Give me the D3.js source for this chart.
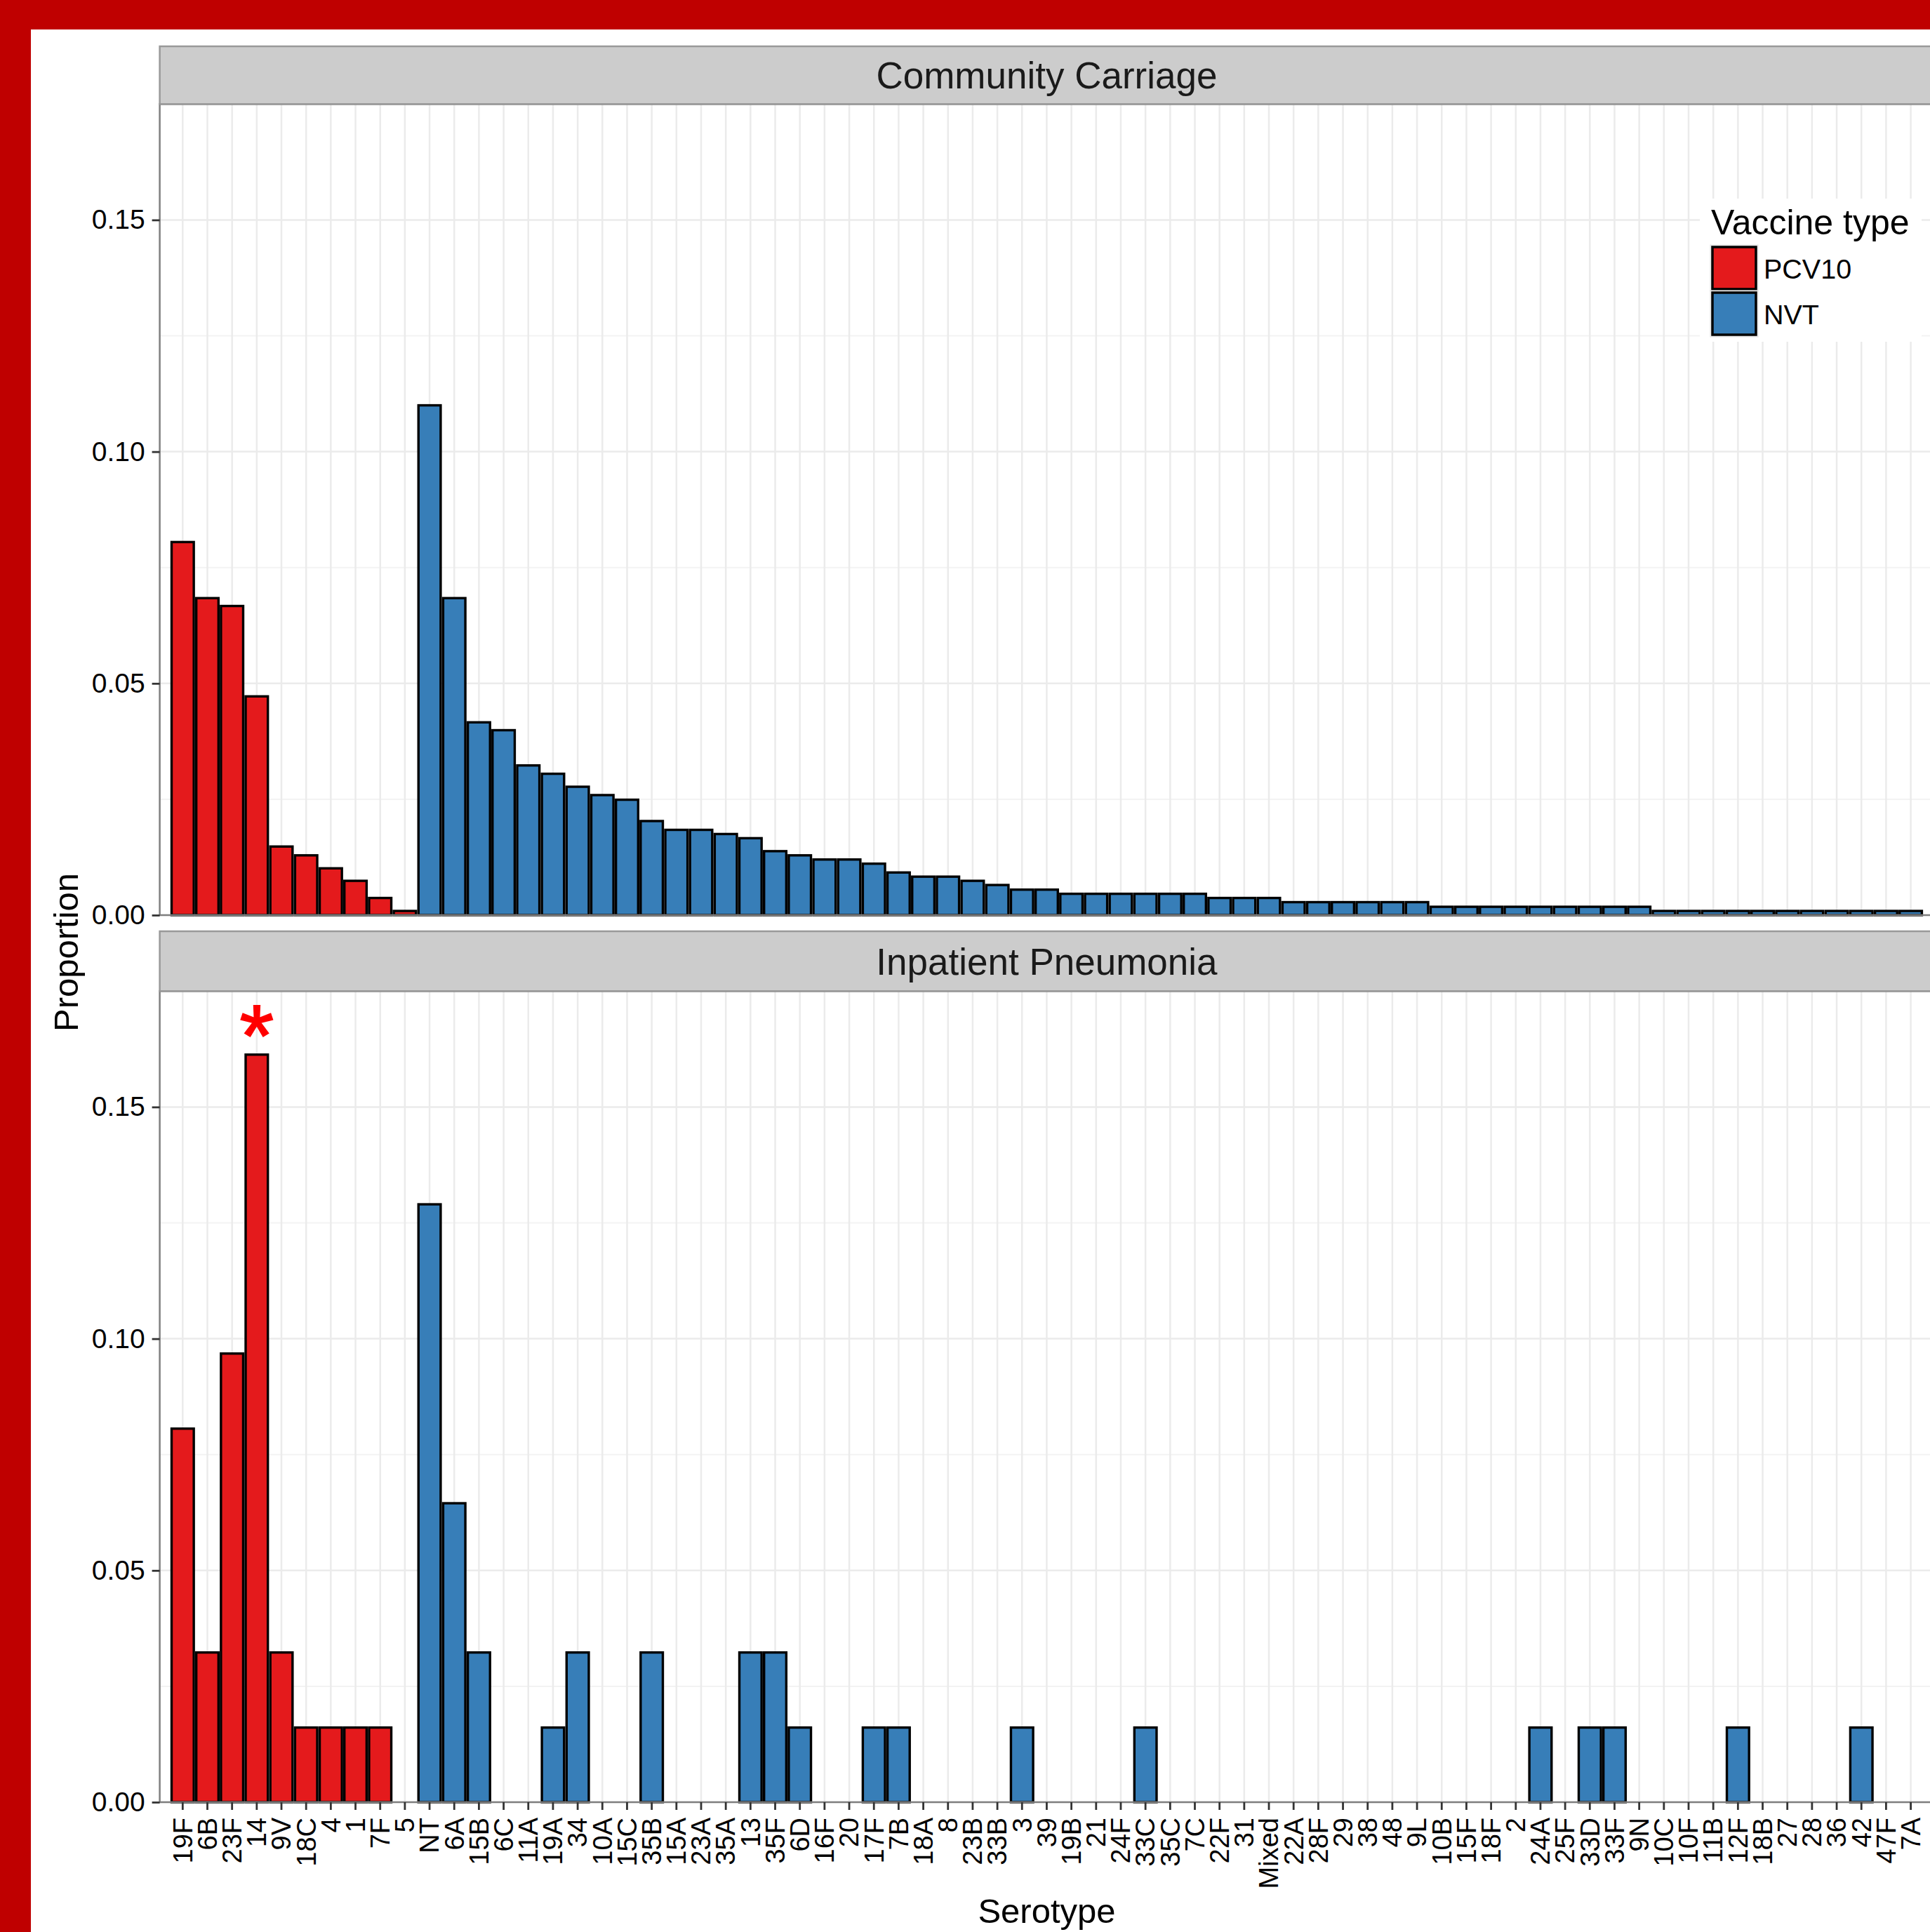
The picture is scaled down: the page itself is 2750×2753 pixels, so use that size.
<!DOCTYPE html>
<html>
<head>
<meta charset="utf-8">
<script src="https://cdn.jsdelivr.net/npm/d3@7"></script>
<style>
  html, body { margin: 0; padding: 0; background: #fff; }
  svg { display: block; }
</style>
</head>
<body>
<div id="chart"></div>
<script>
// serotypes in plotting order
const serotypes = ["19F","6B","23F","14","9V","18C","4","1","7F","5","NT","6A","15B","6C","11A","19A","34","10A","15C","35B","15A","23A","35A","13","35F","6D","16F","20","17F","7B","18A","8","23B","33B","3","39","19B","21","24F","33C","35C","7C","22F","31","Mixed","22A","28F","29","38","48","9L","10B","15F","18F","2","24A","25F","33D","33F","9N","10C","10F","11B","12F","18B","27","28","36","42","47F","7A"];

const pcv10 = ["19F","6B","23F","14","9V","18C","4","1","7F","5"];

// proportions
const carriage = [0.0805,0.0684,0.0667,0.0472,0.0148,0.0129,0.0101,0.0074,0.0037,0.0009,
  0.1100,0.0684,0.0416,0.0399,0.0323,0.0305,0.0277,0.0259,0.0249,0.0203,
  0.0184,0.0184,0.0175,0.0166,0.0138,0.0129,0.0120,0.0120,0.0111,0.0092,
  0.0083,0.0083,0.0074,0.0065,0.0055,0.0055,0.0046,0.0046,0.0046,0.0046,
  0.0046,0.0046,0.0037,0.0037,0.0037,0.0028,0.0028,0.0028,0.0028,0.0028,
  0.0028,0.0018,0.0018,0.0018,0.0018,0.0018,0.0018,0.0018,0.0018,0.0018,
  0.0009,0.0009,0.0009,0.0009,0.0009,0.0009,0.0009,0.0009,0.0009,0.0009,0.0009];

const pneumonia = [0.0806,0.0323,0.0968,0.1613,0.0323,0.0161,0.0161,0.0161,0.0161,0,
  0.1290,0.0645,0.0323,0,0,0.0161,0.0323,0,0,0.0323,
  0,0,0,0.0323,0.0323,0.0161,0,0,0.0161,0.0161,
  0,0,0,0,0.0161,0,0,0,0,0.0161,
  0,0,0,0,0,0,0,0,0,0,
  0,0,0,0,0,0.0161,0,0.0161,0.0161,0,
  0,0,0,0.0161,0,0,0,0,0.0161,0,0];

const panelNames = ["Community Carriage", "Inpatient Pneumonia"];
const yTicks = [0, 0.05, 0.10, 0.15];
const yMinor = [0.025, 0.075, 0.125];

const width = 2750, height = 2753;
const font = "'Liberation Sans', Arial, Helvetica, sans-serif";
const colors = { PCV10: "#e41a1c", NVT: "#377eb8" };

const svg = d3.select("#chart").append("svg")
  .attr("width", width)
  .attr("height", height);

// red frame
svg.append("rect").attr("width", width).attr("height", height).attr("fill", "#bf0000");
svg.append("rect").attr("x", 44).attr("y", 42)
  .attr("width", width - 44).attr("height", height - 42).attr("fill", "#fff");

const plotLeft = 227.6, plotRight = 2755.3;
const x = d3.scaleBand()
  .domain(serotypes)
  .range([plotLeft, plotRight])
  .paddingInner(0)
  .paddingOuter(0.43);
const step = x.step();
const barW = step * 0.9;
const cx = d => x(d) + step / 2;

const panels = [
  { name: panelNames[0], values: carriage, stripTop: 66, zero: 1304 },
  { name: panelNames[1], values: pneumonia, stripTop: 1327, zero: 2568 }
];
const yMax = 0.175;
const pxPerUnit = 6604;

panels.forEach((p, pi) => {
  const y = d3.scaleLinear().domain([0, yMax]).range([p.zero, p.zero - yMax * pxPerUnit]);
  const top = y(yMax);
  const g = svg.append("g");

  // panel background
  g.append("rect").attr("x", plotLeft).attr("y", top)
    .attr("width", plotRight - plotLeft).attr("height", p.zero - top).attr("fill", "#fff");

  // minor grid
  g.selectAll(".minor").data(yMinor).join("line")
    .attr("x1", plotLeft).attr("x2", plotRight)
    .attr("y1", d => y(d)).attr("y2", d => y(d))
    .attr("stroke", "#f3f3f3").attr("stroke-width", 2);

  // major grid
  g.selectAll(".hmajor").data(yTicks).join("line")
    .attr("x1", plotLeft).attr("x2", plotRight)
    .attr("y1", d => y(d)).attr("y2", d => y(d))
    .attr("stroke", "#ebebeb").attr("stroke-width", 2.5);
  g.selectAll(".vmajor").data(serotypes).join("line")
    .attr("x1", cx).attr("x2", cx)
    .attr("y1", top).attr("y2", p.zero)
    .attr("stroke", "#ebebeb").attr("stroke-width", 2.5);

  // legend box sits over the grid in the first panel
  if (pi === 0) {
    const lg = g.append("g");
    lg.append("rect").attr("x", 2422).attr("y", 283).attr("width", 316).attr("height", 204).attr("fill", "#fff");
    lg.append("text").attr("x", 2438).attr("y", 334)
      .attr("font-family", font).attr("font-size", 50).text("Vaccine type");
    ["PCV10", "NVT"].forEach((k, i) => {
      const ky = 351 + i * 65;
      lg.append("rect").attr("x", 2437).attr("y", ky - 2).attr("width", 68).attr("height", 66)
        .attr("fill", "#f2f2f2").attr("stroke", "#e0e0e0").attr("stroke-width", 1);
      lg.append("rect").attr("x", 2440).attr("y", ky + 1).attr("width", 62).attr("height", 60)
        .attr("fill", colors[k]).attr("stroke", "#000").attr("stroke-width", 3.5);
      lg.append("text").attr("x", 2513).attr("y", ky + 46)
        .attr("font-family", font).attr("font-size", 39.5).text(k);
    });
  }

  // bars
  const data = serotypes.map((s, i) => ({ s, v: p.values[i], type: pcv10.includes(s) ? "PCV10" : "NVT" }))
    .filter(d => d.v > 0);
  g.selectAll(".bar").data(data).join("rect")
    .attr("x", d => cx(d.s) - barW / 2)
    .attr("width", barW)
    .attr("y", d => y(d.v))
    .attr("height", d => p.zero - y(d.v))
    .attr("fill", d => colors[d.type])
    .attr("stroke", "#000")
    .attr("stroke-width", 3.4);

  // panel border
  g.append("rect").attr("x", plotLeft).attr("y", top)
    .attr("width", plotRight - plotLeft).attr("height", p.zero - top)
    .attr("fill", "none").attr("stroke", "#7f7f7f").attr("stroke-width", 2.5);

  // strip
  g.append("rect").attr("x", plotLeft).attr("y", p.stripTop)
    .attr("width", plotRight - plotLeft).attr("height", top - p.stripTop)
    .attr("fill", "#cccccc").attr("stroke", "#999").attr("stroke-width", 2.5);
  g.append("text")
    .attr("x", (plotLeft + plotRight) / 2)
    .attr("y", (p.stripTop + top) / 2)
    .attr("dy", "0.36em")
    .attr("text-anchor", "middle")
    .attr("font-family", font).attr("font-size", 53).attr("fill", "#1a1a1a")
    .text(p.name);

  // y axis
  const ya = g.append("g").attr("transform", `translate(${plotLeft},0)`)
    .call(d3.axisLeft(y).tickValues(yTicks).tickFormat(d3.format(".2f")).tickSize(11).tickPadding(10));
  ya.select(".domain").remove();
  ya.selectAll(".tick line").attr("stroke", "#333").attr("stroke-width", 2.8);
  ya.selectAll(".tick text").attr("font-family", font).attr("font-size", 39).attr("fill", "#000");

  // x axis on the lower panel only
  if (pi === 1) {
    const xa = g.append("g").attr("transform", `translate(0,${p.zero})`)
      .call(d3.axisBottom(x).tickSize(11).tickPadding(0));
    xa.select(".domain").remove();
    xa.selectAll(".tick line").attr("stroke", "#333").attr("stroke-width", 2.8);
    xa.selectAll(".tick text")
      .attr("font-family", font).attr("font-size", 38).attr("fill", "#000")
      .attr("text-anchor", "end")
      .attr("dy", "0.35em")
      .attr("transform", "translate(0,22) rotate(-90)")
      .attr("x", 0).attr("y", 0);

    // significance mark over serotype 14
    g.append("text")
      .attr("x", cx("14"))
      .attr("y", 1519)
      .attr("text-anchor", "middle")
      .attr("font-family", font).attr("font-size", 125)
      .attr("stroke", "#ff0000").attr("stroke-width", 2)
      .attr("fill", "#ff0000")
      .text("*");
  }
});

// axis titles
svg.append("text")
  .attr("transform", "translate(111,1357) rotate(-90)")
  .attr("text-anchor", "middle")
  .attr("font-family", font).attr("font-size", 49)
  .text("Proportion");

svg.append("text")
  .attr("x", (plotLeft + plotRight) / 2)
  .attr("y", 2740)
  .attr("text-anchor", "middle")
  .attr("font-family", font).attr("font-size", 49)
  .text("Serotype");
</script>
</body>
</html>
